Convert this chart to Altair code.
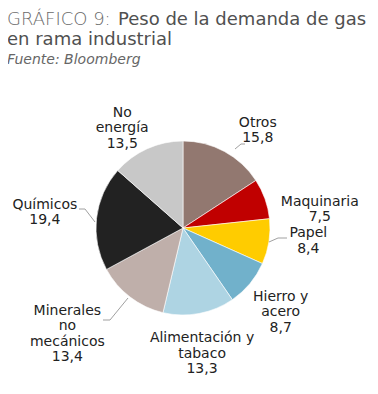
import altair as alt
import numpy as np
import pandas as pd

# ---- data ----
categories = ["Otros", "Maquinaria", "Papel", "Hierro y acero",
              "Alimentación y tabaco", "Minerales no mecánicos", "Químicos", "No energía"]
values = [15.8, 7.5, 8.4, 8.7, 13.3, 13.4, 19.4, 13.5]
label_text = ["Otros\n15,8", "Maquinaria\n7,5", "Papel\n8,4", "Hierro y\nacero\n8,7",
              "Alimentación y\ntabaco\n13,3", "Minerales\nno\nmecánicos\n13,4",
              "Químicos\n19,4", "No\nenergía\n13,5"]
colors = ["#927870", "#C00000", "#FFCC00", "#71B1CB", "#AED4E3", "#BFAFAA", "#222222", "#C8C8C8"]

# ---- layout (not data) ----
CX, CY, R = 175, 220, 87
LH = 15.5
label_radius = [123, 138, 126, 129, 127, 157, 139, 117]
label_angle_shift_deg = [9, 12, -3, 1, 2, 10, 0, -7]
leaders = {  # pixel offsets from pie centre
    "Otros": [(52, -79), (58, -84), (62, -84)],
    "Papel": [(86, 14), (95, 10), (104, 10)],
    "Químicos": [(-88, -6), (-98, -19), (-104, -19)],
    "Minerales no mecánicos": [(-55, 70), (-73, 92), (-80, 92)],
}

df = pd.DataFrame({"cat": categories, "val": values, "order": range(len(values)),
                   "label": label_text})
cum = np.cumsum(values)
mid = (cum - np.array(values) / 2) / sum(values) * 2 * np.pi
ang = mid + np.radians(label_angle_shift_deg)
rad = np.array(label_radius, dtype=float)
# block centre -> anchor of first line (Vega puts first line at the anchor)
nlines = np.array([s.count("\n") + 1 for s in label_text])
bx = rad * np.sin(ang)
by = -rad * np.cos(ang) - (nlines - 1) / 2 * LH
df["la"] = np.arctan2(bx, -by)
df["lr"] = np.hypot(bx, by)

rows = []
for k, pts in leaders.items():
    for i, (dx, dy) in enumerate(pts):
        rows.append({"g": k, "i": i, "x": CX + dx, "y": CY + dy})
lead_df = pd.DataFrame(rows)

pie = alt.Chart(df).mark_arc(outerRadius=R, stroke="white", strokeWidth=0.6).encode(
    theta=alt.Theta("val:Q", stack=True, scale=alt.Scale(domain=[0, 100])),
    order=alt.Order("order:Q"),
    color=alt.Color("cat:N", scale=alt.Scale(domain=categories, range=colors), legend=None),
    x=alt.value(CX), y=alt.value(CY),
)

labels = alt.Chart(df).mark_text(lineBreak="\n", fontSize=14, font="DejaVu Sans",
                                 color="#222222", align="center", baseline="middle",
                                 lineHeight=LH).encode(
    theta=alt.Theta("la:Q", scale=None),
    radius=alt.Radius("lr:Q", scale=None),
    text="label:N",
    x=alt.value(CX), y=alt.value(CY),
)

lead = alt.Chart(lead_df).mark_line(color="#A0A0A0", strokeWidth=1).encode(
    x=alt.X("x:Q", scale=None), y=alt.Y("y:Q", scale=None),
    detail="g:N", order="i:Q",
)

def txt(s, x, y, size, weight="normal", style="normal", color="#555555"):
    return alt.Chart(pd.DataFrame({"t": [s]})).mark_text(
        align="left", baseline="alphabetic", fontSize=size, fontWeight=weight,
        fontStyle=style, font="DejaVu Sans", color=color).encode(
        text="t:N", x=alt.value(x), y=alt.value(y))

t1 = txt("GRÁFICO 9:", -1, 17, 18, weight=300, color="#6A6A6A")
t2 = txt("Peso de la demanda de gas", 110, 17, 18, weight=500, color="#505050")
t3 = txt("en rama industrial", -1, 37, 18, weight=500, color="#505050")
t4 = txt("Fuente: Bloomberg", -1, 56, 14, style="italic", color="#666666")

chart = alt.layer(pie, lead, labels, t1, t2, t3, t4).properties(
    width=362, height=378, padding=0, autosize=alt.AutoSizeParams(type="none")
).configure_view(stroke=None)

chart.save("out.html", embed_options={"renderer": "svg", "actions": False})
